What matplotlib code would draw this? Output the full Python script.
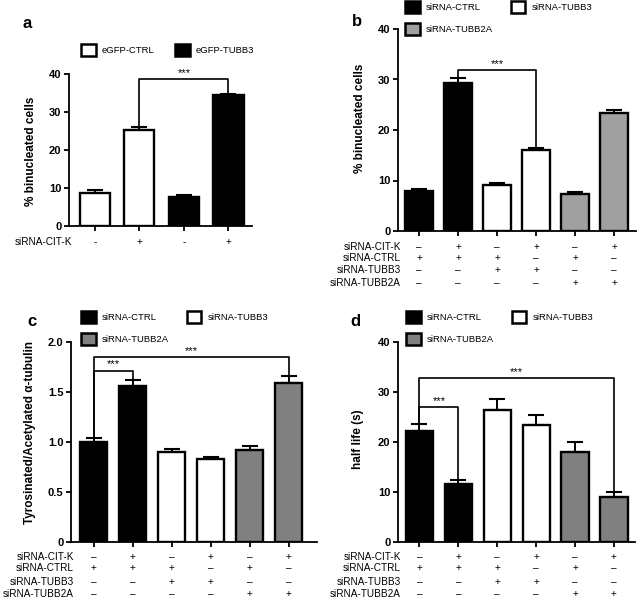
import matplotlib
matplotlib.use("Agg")
import matplotlib.pyplot as plt
from matplotlib.patches import Patch

plt.rcParams['font.family'] = ['Liberation Sans', 'DejaVu Sans']

# panel a
a_vals = [8.8, 25.2, 7.7, 34.5]
a_err = [0.7, 0.8, 0.4, 0.3]
a_colors = ['white', 'white', 'black', 'black']
a_rows = ['siRNA-CIT-K']
a_signs = [['-', '+', '-', '+']]
a_sig = [(1, 3, 38.7)]

# panel b
b_vals = [7.9, 29.4, 9.1, 16.1, 7.4, 23.3]
b_err = [0.5, 0.8, 0.4, 0.4, 0.35, 0.6]
# panel c
c_vals = [1.0, 1.56, 0.9, 0.83, 0.92, 1.59]
c_err = [0.045, 0.065, 0.03, 0.025, 0.04, 0.075]
# panel d
d_vals = [22.3, 11.7, 26.5, 23.5, 18.1, 9.0]
d_err = [1.3, 0.7, 2.2, 2.0, 2.0, 1.0]

six_rows = ['siRNA-CIT-K', 'siRNA-CTRL', 'siRNA-TUBB3', 'siRNA-TUBB2A']
six_signs = [['–', '+', '–', '+', '–', '+'],
             ['+', '+', '+', '–', '+', '–'],
             ['–', '–', '+', '+', '–', '–'],
             ['–', '–', '–', '–', '+', '+']]
b_sig = [(1, 3, 31.9)]
c_sig = [(0, 5, 1.85), (0, 1, 1.713)]
d_sig = [(0, 5, 32.8), (0, 1, 27.0)]

W, H = 637, 599
fig = plt.figure(figsize=(W / 100, H / 100), dpi=100)


def make_ax(l, r, t, b):
    return fig.add_axes([l / W, 1 - b / H, (r - l) / W, (b - t) / H])


def panel(ax, vals, err, colors, width, xlim, ylim, yticks, yticklabels,
          ylabel, lab_xy, rows, signs, sigs, row_dy, fs=8):
    n = len(vals)
    x = list(range(n))
    ax.bar(x, vals, width=width, color=colors, edgecolor='black', linewidth=1.7,
           zorder=3)
    ax.errorbar(x, vals, yerr=[[0] * n, err], fmt='none', ecolor='black',
                elinewidth=1.4, capsize=6, capthick=1.5, zorder=2)
    ax.set_xlim(*xlim)
    ax.set_ylim(*ylim)
    ax.set_yticks(yticks)
    ax.set_yticklabels(yticklabels)
    ax.set_xticks(x)
    ax.set_xticklabels([])
    for s in ['top', 'right']:
        ax.spines[s].set_visible(False)
    for s in ['left', 'bottom']:
        ax.spines[s].set_linewidth(1.3)
    ax.tick_params(direction='out', length=3.5, width=1.3, labelsize=fs, pad=2)
    for t in ax.get_yticklabels():
        t.set_fontweight('bold')
    ax.set_ylabel(ylabel, fontsize=fs + 0.5, fontweight='bold')
    ax.yaxis.set_label_coords(*lab_xy)
    # condition table under the axis
    for k, (name, row) in enumerate(zip(rows, signs)):
        dy = -row_dy[k] * 0.72
        ax.annotate(name, xy=(0, 0), xycoords='axes fraction', xytext=(2, dy),
                    textcoords='offset points', ha='right', va='center',
                    fontsize=7.2)
        for i, sgn in enumerate(row):
            ax.annotate(sgn, xy=(i, 0), xycoords=('data', 'axes fraction'),
                        xytext=(0, dy), textcoords='offset points',
                        ha='center', va='center', fontsize=7.2)
    # significance brackets
    top = [v + e for v, e in zip(vals, err)]
    for i, j, y in sigs:
        ax.plot([i, i, j, j], [top[i], y, y, top[j]], color='black', lw=1.2,
                zorder=4, clip_on=False)
        ax.text((i + j) / 2, y + (ylim[1] - ylim[0]) * 0.006, '***',
                ha='center', va='bottom', fontsize=8)


# a
ax_a = make_ax(69, 252, 74, 226)
panel(ax_a, a_vals, a_err, a_colors, 0.68, (-0.58, 3.53), (0, 40),
      [0, 10, 20, 30, 40], ['0', '10', '20', '30', '40'],
      '% binucleated cells', (-0.175, 0.49), a_rows, a_signs, a_sig, [16])
ax_a.legend(handles=[Patch(facecolor='white', edgecolor='black', lw=1.8,
                           label='eGFP-CTRL'),
                     Patch(facecolor='black', edgecolor='black', lw=1.8,
                           label='eGFP-TUBB3')],
            loc='upper left', bbox_to_anchor=(81 / W, 1 - 44 / H),
            bbox_transform=fig.transFigure, ncol=2, frameon=False,
            fontsize=6.8, handlelength=1.55, handleheight=1.6,
            handletextpad=0.65, columnspacing=2.2, borderpad=0,
            borderaxespad=0)

six_colors = ['black', 'black', 'white', 'white']


def six_legend(ax, gray, x0, y0):
    hs = [Patch(facecolor='black', edgecolor='black', lw=1.8, label='siRNA-CTRL'),
          Patch(facecolor=gray, edgecolor='black', lw=1.8, label='siRNA-TUBB2A'),
          Patch(facecolor='white', edgecolor='black', lw=1.8, label='siRNA-TUBB3')]
    ax.legend(handles=hs, loc='upper left', bbox_to_anchor=(x0 / W, 1 - y0 / H),
              bbox_transform=fig.transFigure, ncol=2, frameon=False,
              fontsize=6.8, handlelength=1.55, handleheight=1.6,
              handletextpad=0.65, columnspacing=1.9, borderpad=0,
              borderaxespad=0, labelspacing=1.05)


# b
ax_b = make_ax(398, 636, 29, 231)
panel(ax_b, b_vals, b_err, six_colors + ['#a0a0a0'] * 2, 0.72, (-0.54, 5.56),
      (0, 40), [0, 10, 20, 30, 40], ['0', '10', '20', '30', '40'],
      '% binucleated cells', (-0.134, 0.56), six_rows, six_signs, b_sig,
      [16, 27, 39, 52])
six_legend(ax_b, '#a0a0a0', 405, 1)

# c
ax_c = make_ax(71, 317, 342, 542)
panel(ax_c, c_vals, c_err, six_colors + ['#808080'] * 2, 0.7, (-0.58, 5.73),
      (0, 2.0), [0, 0.5, 1.0, 1.5, 2.0], ['0', '0.5', '1.0', '1.5', '2.0'],
      'Tyrosinated/Acetylated α-tubulin', (-0.142, 0.545), six_rows,
      six_signs, c_sig, [15, 26, 40, 52])
six_legend(ax_c, '#808080', 81, 311)

# d
ax_d = make_ax(398, 635, 342, 542)
panel(ax_d, d_vals, d_err, six_colors + ['#808080'] * 2, 0.7, (-0.55, 5.54),
      (0, 40), [0, 10, 20, 30, 40], ['0', '10', '20', '30', '40'],
      'half life (s)', (-0.143, 0.515), six_rows, six_signs, d_sig,
      [15, 26, 40, 52])
six_legend(ax_d, '#808080', 406, 311)

for lab, (px, py) in zip('abcd', [(27, 23), (357, 22), (32, 322), (355, 322)]):
    fig.text(px / W, 1 - py / H, lab, fontsize=12, fontweight='bold',
             ha='center', va='center')

fig.savefig('out.png', dpi=100)
